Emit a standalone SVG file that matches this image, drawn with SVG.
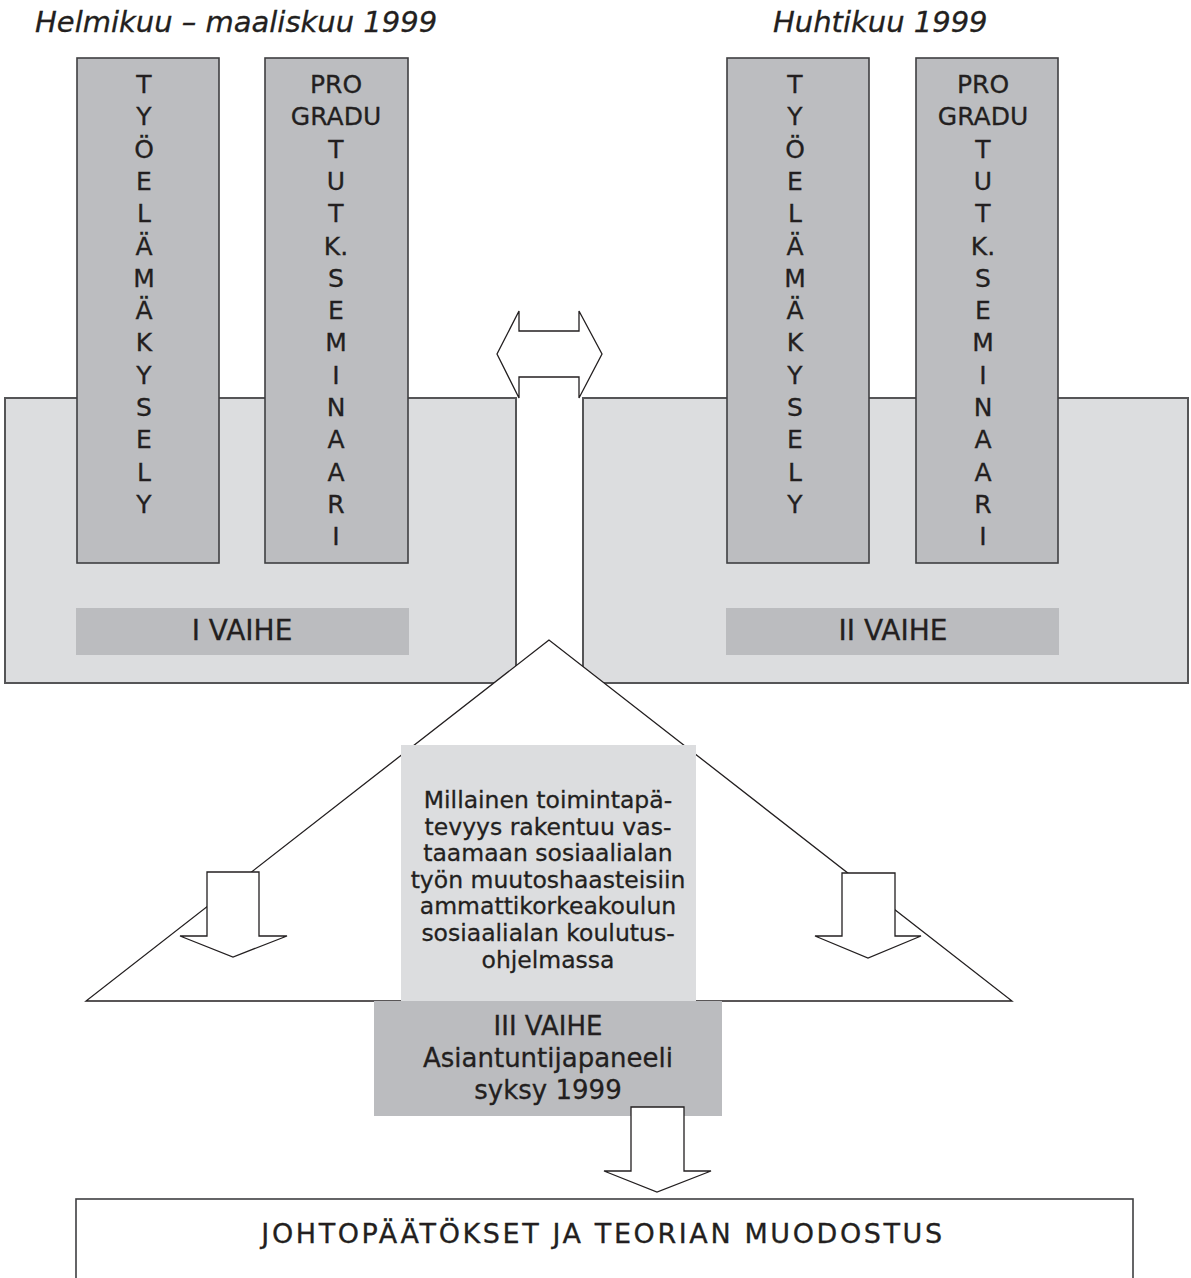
<svg xmlns="http://www.w3.org/2000/svg" width="1191" height="1278" viewBox="0 0 1191 1278">
<style>
.t{font-family:"DejaVu Sans","Liberation Sans",sans-serif;fill:#231f20;text-anchor:middle;stroke:#231f20;stroke-width:0.3}
.title{font-style:italic;font-size:29px;text-anchor:start}
.col{font-size:25px}
.bar{font-size:28px}
.mid{font-size:23.5px}
.p3{font-size:26px}
.big{fill:#dcdddf;stroke:#555557;stroke-width:2}
.colbox{fill:#bcbdc0;stroke:#3f3f41;stroke-width:1.6}
.barbox{fill:#bbbcbf}
.ln{fill:#fff;stroke:#231f20;stroke-width:1.3;stroke-linejoin:miter}
</style>
<rect width="1191" height="1278" fill="#fff"/>
<text class="t title" x="35" y="32">Helmikuu – maaliskuu 1999</text>
<text class="t title" x="773" y="32">Huhtikuu 1999</text>

<g id="phase1">
<rect class="big" x="5" y="398" width="511" height="285"/>
<rect class="barbox" x="76" y="608" width="333" height="47"/>
<text class="t bar" x="242" y="640">I VAIHE</text>
</g>
<g id="phase2">
<rect class="big" x="583" y="398" width="605" height="285"/>
<rect class="barbox" x="726" y="608" width="333" height="47"/>
<text class="t bar" x="893" y="640">II VAIHE</text>
</g>

<g id="col-tyoelama-1">
<rect class="colbox" x="77" y="58" width="142" height="505"/>
<text class="t col"><tspan x="144" y="93">T</tspan><tspan x="144" y="125.3">Y</tspan><tspan x="144" y="157.6">Ö</tspan><tspan x="144" y="189.9">E</tspan><tspan x="144" y="222.2">L</tspan><tspan x="144" y="254.5">Ä</tspan><tspan x="144" y="286.8">M</tspan><tspan x="144" y="319.1">Ä</tspan><tspan x="144" y="351.4">K</tspan><tspan x="144" y="383.7">Y</tspan><tspan x="144" y="416">S</tspan><tspan x="144" y="448.3">E</tspan><tspan x="144" y="480.6">L</tspan><tspan x="144" y="512.9">Y</tspan></text>
</g>
<g id="col-seminaari-1">
<rect class="colbox" x="265" y="58" width="143" height="505"/>
<text class="t col"><tspan x="336" y="93">PRO</tspan><tspan x="336" y="125.3">GRADU</tspan><tspan x="336" y="157.6">T</tspan><tspan x="336" y="189.9">U</tspan><tspan x="336" y="222.2">T</tspan><tspan x="336" y="254.5">K.</tspan><tspan x="336" y="286.8">S</tspan><tspan x="336" y="319.1">E</tspan><tspan x="336" y="351.4">M</tspan><tspan x="336" y="383.7">I</tspan><tspan x="336" y="416">N</tspan><tspan x="336" y="448.3">A</tspan><tspan x="336" y="480.6">A</tspan><tspan x="336" y="512.9">R</tspan><tspan x="336" y="545.2">I</tspan></text>
</g>
<g id="col-tyoelama-2">
<rect class="colbox" x="727" y="58" width="142" height="505"/>
<text class="t col"><tspan x="795" y="93">T</tspan><tspan x="795" y="125.3">Y</tspan><tspan x="795" y="157.6">Ö</tspan><tspan x="795" y="189.9">E</tspan><tspan x="795" y="222.2">L</tspan><tspan x="795" y="254.5">Ä</tspan><tspan x="795" y="286.8">M</tspan><tspan x="795" y="319.1">Ä</tspan><tspan x="795" y="351.4">K</tspan><tspan x="795" y="383.7">Y</tspan><tspan x="795" y="416">S</tspan><tspan x="795" y="448.3">E</tspan><tspan x="795" y="480.6">L</tspan><tspan x="795" y="512.9">Y</tspan></text>
</g>
<g id="col-seminaari-2">
<rect class="colbox" x="916" y="58" width="142" height="505"/>
<text class="t col"><tspan x="983" y="93">PRO</tspan><tspan x="983" y="125.3">GRADU</tspan><tspan x="983" y="157.6">T</tspan><tspan x="983" y="189.9">U</tspan><tspan x="983" y="222.2">T</tspan><tspan x="983" y="254.5">K.</tspan><tspan x="983" y="286.8">S</tspan><tspan x="983" y="319.1">E</tspan><tspan x="983" y="351.4">M</tspan><tspan x="983" y="383.7">I</tspan><tspan x="983" y="416">N</tspan><tspan x="983" y="448.3">A</tspan><tspan x="983" y="480.6">A</tspan><tspan x="983" y="512.9">R</tspan><tspan x="983" y="545.2">I</tspan></text>
</g>

<g id="connectors">
<polygon class="ln" points="497,354 519,311 519,331 579,331 579,311 602,354 579,398 579,377 519,377 519,398"/>
</g>

<g id="triangle">
<polygon class="ln" points="549,640 86,1001 1012,1001"/>
</g>
<g id="question">
<rect x="401" y="745" width="295" height="257" fill="#dcdddf"/>
<text class="t mid"><tspan x="548" y="808">Millainen toimintapä-</tspan><tspan x="548" y="834.6">tevyys rakentuu vas-</tspan><tspan x="548" y="861.2">taamaan sosiaalialan</tspan><tspan x="548" y="887.8">työn muutoshaasteisiin</tspan><tspan x="548" y="914.4">ammattikorkeakoulun</tspan><tspan x="548" y="941">sosiaalialan koulutus-</tspan><tspan x="548" y="967.6">ohjelmassa</tspan></text>
</g>
<g id="connectors2">
<polygon class="ln" points="207,872 259,872 259,936 287,936 233,957 180,936 207,936"/>
<polygon class="ln" points="842,873 895,873 895,936 921,936 868,958 815,936 842,936"/>
</g>
<g id="phase3">
<rect class="barbox" x="374" y="1001" width="348" height="115"/>
<text class="t p3"><tspan x="548" y="1035">III VAIHE</tspan><tspan x="548" y="1067">Asiantuntijapaneeli</tspan><tspan x="548" y="1099">syksy 1999</tspan></text>
</g>
<g id="connectors3">
<polygon class="ln" points="631,1107 684,1107 684,1171 711,1171 657,1192 604,1171 631,1171"/>
</g>
<g id="conclusion">
<rect x="76" y="1199" width="1057" height="100" fill="#fff" stroke="#3f3f41" stroke-width="1.6"/>
<text class="t" x="603" y="1243" font-size="27" letter-spacing="2.6">JOHTOPÄÄTÖKSET JA TEORIAN MUODOSTUS</text>
</g>
</svg>
